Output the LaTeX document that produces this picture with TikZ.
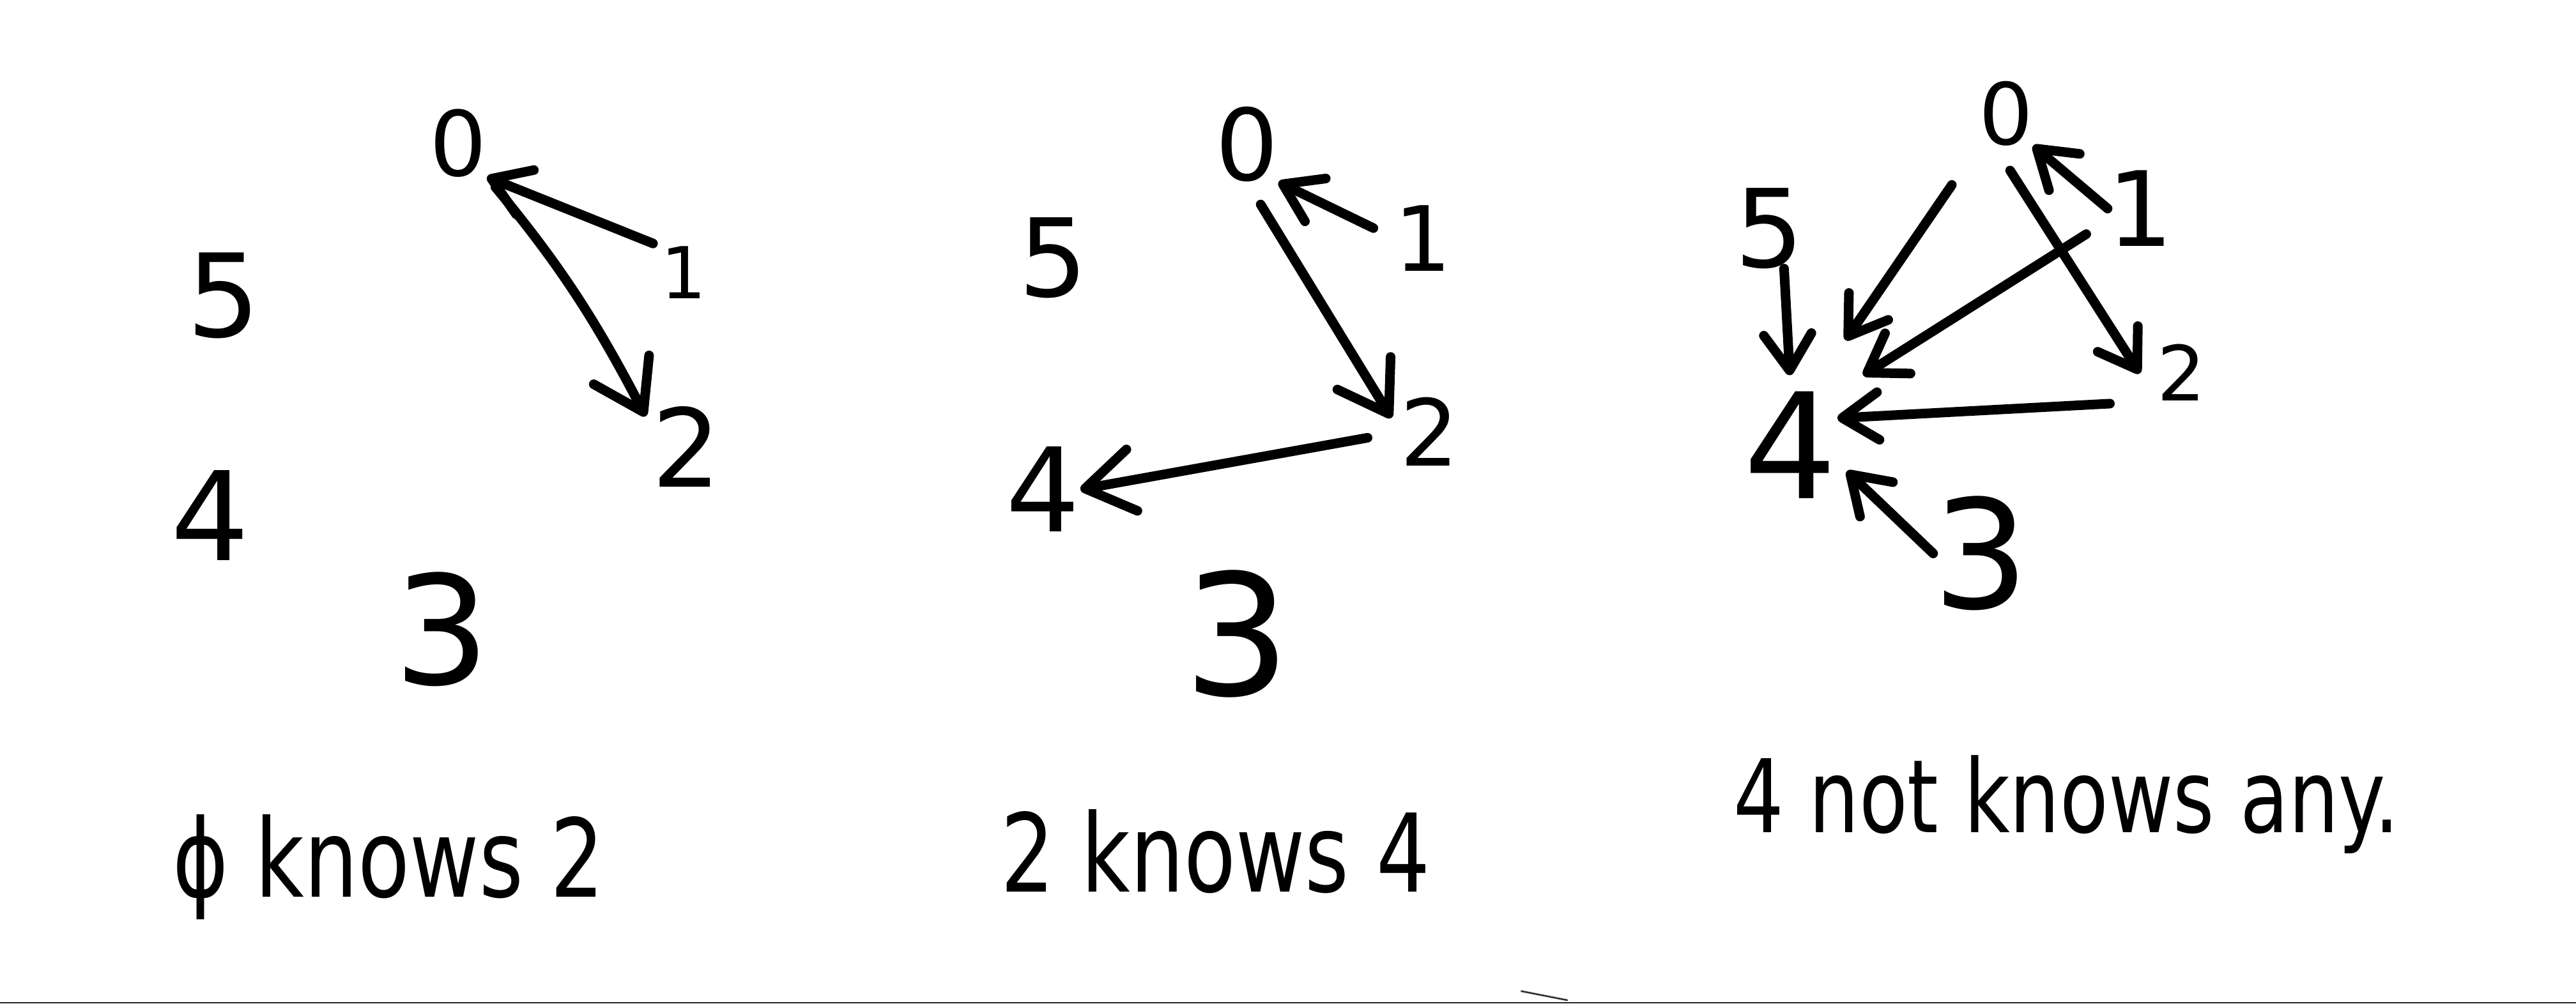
\documentclass[tikz,border=0pt]{standalone}
\usepackage{fontspec}
\setmainfont{DejaVu Sans}
\usetikzlibrary{arrows.meta}
\begin{document}
\begin{tikzpicture}[x=0.05cm,y=-0.05cm,
  num/.style={inner sep=0pt, outer sep=0pt, font=\fontsize{#1}{#1}\selectfont},
  lbl/.style={inner sep=0pt, anchor=base west, xscale=0.78, transform shape, font=\fontsize{#1}{#1}\selectfont},
  arrbig/.style={line width=8.3pt, line cap=round, line join=round, -{Straight Barb[length=1.45cm,width=1.9cm,round]}},
  arrsmall/.style={line width=8.3pt, line cap=round, line join=round, -{Straight Barb[length=1.1cm,width=1.45cm,round]}},
]
\fill[white] (0,0) rectangle (1568,611);
\useasboundingbox (0,0) rectangle (1568,611);

% ---------- panel 1 ----------
\node[num=78]  (a0) at (279,87)  {0};
\node[num=62]  (a1) at (416,166) {1};
\node[num=94]  (a2) at (418,272) {2};
\node[num=100] (a5) at (136,180) {5};
\node[num=107] (a4) at (128,314) {4};
\node[num=131] (a3) at (269,383) {3};
\draw[arrsmall, shorten <=0.25cm] (a1.north west) -- (a0.south east);
\draw[arrbig, shorten <=0.4cm] (a0.south east) to[bend left=6] ([xshift=-0.2cm,yshift=-0.3cm]a2.north west);

% ---------- panel 2 ----------
\node[num=86]  (b0) at (759,88)  {0};
\node[num=78]  (b1) at (866,145) {1};
\node[num=80]  (b2) at (870,263) {2};
\node[num=94]  (b5) at (641,157) {5};
\node[num=101] (b4) at (635,298) {4};
\node[num=146] (b3) at (753,386) {3};
\draw[arrsmall, shorten <=0.7cm] (b1.west) -- (b0.south east);
\draw[arrbig, shorten <=0.8cm, shorten >=0.5cm] (b0.south) -- (b2.west);
\draw[arrbig, shorten <=1cm] (b2.west) -- (b4.east);

% ---------- panel 3 ----------
\node[num=74]  (c0) at (1221,69)  {0};
\node[num=90]  (c1) at (1303,127) {1};
\node[num=66]  (c2) at (1328,227) {2};
\node[num=94]  (c5) at (1077,139) {5};
\node[num=127] (c4) at (1090,271) {4};
\node[num=131] (c3) at (1206,337) {3};
\draw[arrsmall] (c1.west) -- (c0.south east);
\draw[arrsmall, shorten <=0.9cm, shorten >=1cm] (c0.-110) -- (c2.south west);
\draw[arrsmall, shorten <=1.45cm, shorten >=1.9cm] (c0.south west) -- (c4.70);
\draw[arrsmall, shorten <=0.77cm, shorten >=0.93cm] (c1.200) -- (c4.north east);
\draw[arrsmall, shorten <=1.45cm] (c2.south west) -- (c4.30);
\draw[arrsmall, shorten >=0.4cm] (c3.west) -- (c4.-20);
\draw[arrsmall, shorten >=0.5cm] (c5.-70) -- (c4.north);

% ---------- captions ----------
\node[lbl=94] (t1) at (105,546) {ϕ knows 2};
\node[lbl=94] (t2) at (609,543) {2 knows 4};
\node[lbl=88] (t3) at (1055,507) {4 not knows any.};

% paper edge
\fill[black!85] (0,610) rectangle (1568,611);
\draw[black!80, line width=1.5pt, line cap=round] (926,603.5) -- (954,609);
\end{tikzpicture}
\end{document}
